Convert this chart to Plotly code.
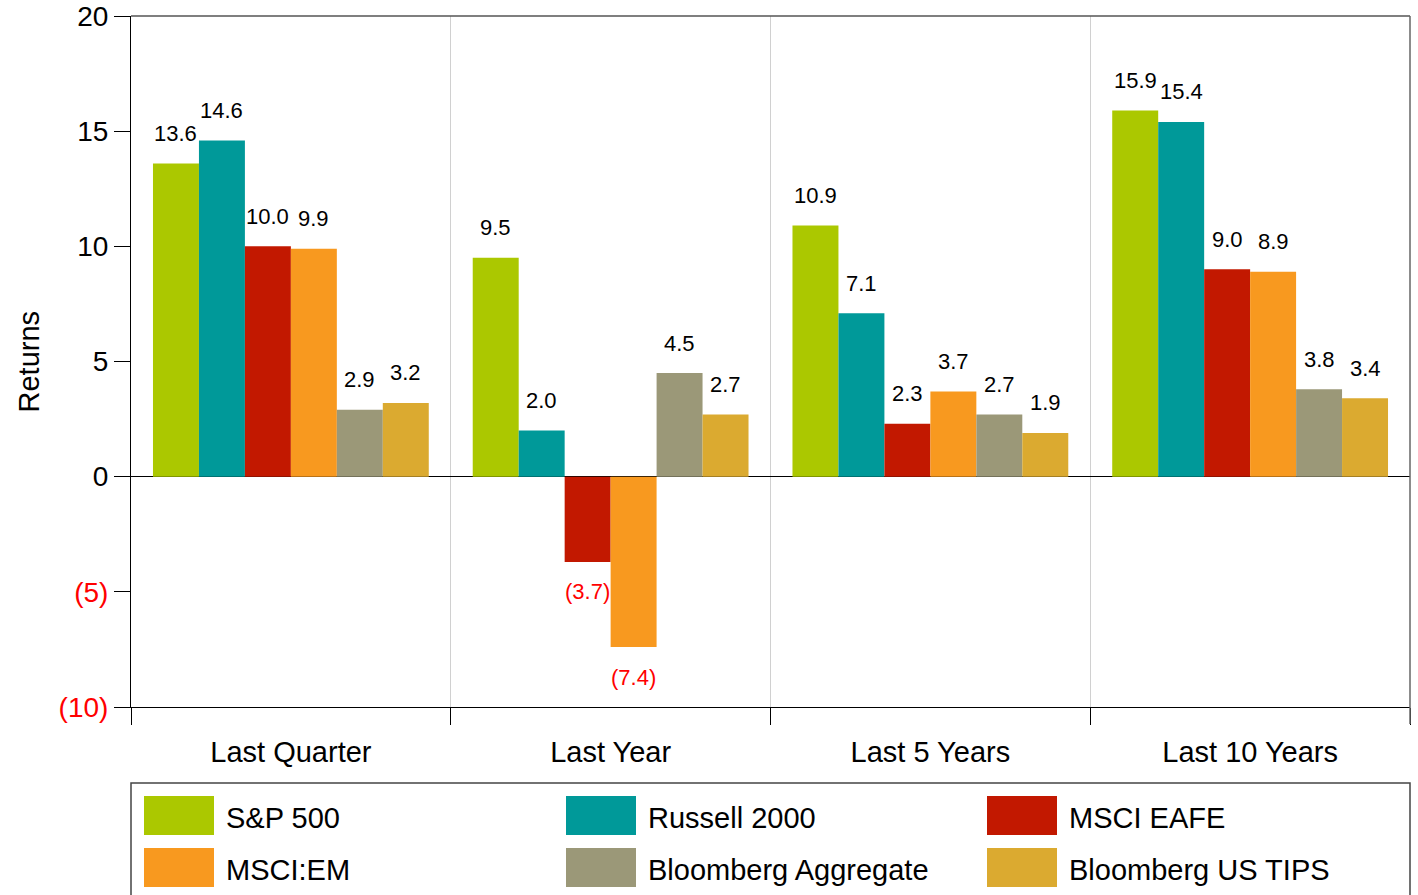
import plotly.graph_objects as go

categories = ["Last Quarter", "Last Year", "Last 5 Years", "Last 10 Years"]
series_names = ["S&P 500", "Russell 2000", "MSCI EAFE", "MSCI:EM",
                "Bloomberg Aggregate", "Bloomberg US TIPS"]
sp500 = [13.6, 9.5, 10.9, 15.9]
russell2000 = [14.6, 2.0, 7.1, 15.4]
msci_eafe = [10.0, -3.7, 2.3, 9.0]
msci_em = [9.9, -7.4, 3.7, 8.9]
bbg_agg = [2.9, 4.5, 2.7, 3.8]
bbg_tips = [3.2, 2.7, 1.9, 3.4]
series_values = [sp500, russell2000, msci_eafe, msci_em, bbg_agg, bbg_tips]
colors = ["#ABC800", "#009999", "#C21800", "#F8991F", "#9B9878", "#DBAA30"]
y_tickvals = [-10, -5, 0, 5, 10, 15, 20]

FONT = "Arial, Liberation Sans, sans-serif"
W, H = 1418, 895
ML, MT = 131, 16
MR = W - 1410
MB = H - 707
PW, PH = W - ML - MR, H - MT - MB
BARGAP = 0.1375


def fmt(v):
    return f"({abs(v):.1f})" if v < 0 else f"{v:.1f}"


def tick_text(v):
    if v < 0:
        return f"<span style='color:red'>({abs(v)})</span>"
    return str(v)


def px2x(px):
    return (px - ML) / PW


def py2y(py):
    return (MT + PH - py) / PH


fig = go.Figure()
for name, vals, col in zip(series_names, series_values, colors):
    fig.add_trace(go.Bar(x=categories, y=vals, name=name, marker_color=col,
                         marker_line_width=0, showlegend=False))

# value labels
n = len(series_names)
slot = (1 - BARGAP) / n
annotations = []
for j, vals in enumerate(series_values):
    for i, v in enumerate(vals):
        annotations.append(dict(
            x=i + (j - (n - 1) / 2) * slot, y=v, xref="x", yref="y",
            text=fmt(v), showarrow=False, yanchor="middle", xanchor="center",
            yshift=30 if v >= 0 else -30,
            font=dict(family=FONT, size=22, color="red" if v < 0 else "black")))

# y title
annotations.append(dict(x=px2x(28), y=0.5, xref="paper", yref="paper",
                        text="Returns", textangle=-90, showarrow=False,
                        xanchor="center", yanchor="middle",
                        font=dict(family=FONT, size=29, color="black")))

shapes = []
# top and right frame lines (gray)
shapes.append(dict(type="line", xref="paper", yref="paper", x0=0, x1=1, y0=1, y1=1,
                   line=dict(color="#555", width=1.5)))
shapes.append(dict(type="line", xref="paper", yref="paper", x0=1, x1=1, y0=py2y(724), y1=1,
                   line=dict(color="#666", width=1.5)))
# legend box
shapes.append(dict(type="rect", xref="paper", yref="paper",
                   x0=px2x(131), x1=px2x(1410), y0=py2y(783), y1=py2y(930),
                   line=dict(color="#444", width=1.5), fillcolor="rgba(0,0,0,0)"))
col_x = [144, 566, 987]
row_y = [796, 848]
for k, (name, col) in enumerate(zip(series_names, colors)):
    r, c = divmod(k, 3)
    x0 = col_x[c]
    y0 = row_y[r]
    shapes.append(dict(type="rect", xref="paper", yref="paper",
                       x0=px2x(x0), x1=px2x(x0 + 70), y0=py2y(y0 + 39), y1=py2y(y0),
                       line=dict(width=0), fillcolor=col))
    annotations.append(dict(x=px2x(x0 + 80), y=py2y(y0 + 22), xref="paper", yref="paper",
                            text=name, showarrow=False, xanchor="left", yanchor="middle",
                            font=dict(family=FONT, size=29, color="black")))

fig.update_layout(
    width=W, height=H,
    margin=dict(l=ML, r=MR, t=MT, b=MB, autoexpand=False),
    paper_bgcolor="white", plot_bgcolor="white",
    barmode="group", bargap=BARGAP, bargroupgap=0,
    annotations=annotations, shapes=shapes,
    font=dict(family=FONT, color="black"),
    showlegend=False,
)
fig.update_xaxes(
    type="category", tickson="boundaries", ticks="outside", ticklen=17,
    tickcolor="black", showgrid=True, gridcolor="#d0d0d0", gridwidth=1,
    showline=True, linecolor="black", linewidth=1, mirror=False,
    ticklabelstandoff=19,
    tickfont=dict(family=FONT, size=29, color="black"), automargin=False,
)
fig.update_yaxes(
    range=[-10, 20], tickvals=y_tickvals, ticktext=[tick_text(v) for v in y_tickvals],
    ticks="outside", ticklen=16, tickcolor="black", showgrid=False,
    zeroline=True, zerolinecolor="black", zerolinewidth=1,
    showline=True, linecolor="black", linewidth=1, mirror=False,
    ticklabeloverflow="allow",
    tickfont=dict(family=FONT, size=28, color="black"), automargin=False,
)

fig.write_html(
    "out.html",
    config={"displayModeBar": False},
    post_script="document.body.style.margin='0';document.body.style.overflow='hidden';",
)
